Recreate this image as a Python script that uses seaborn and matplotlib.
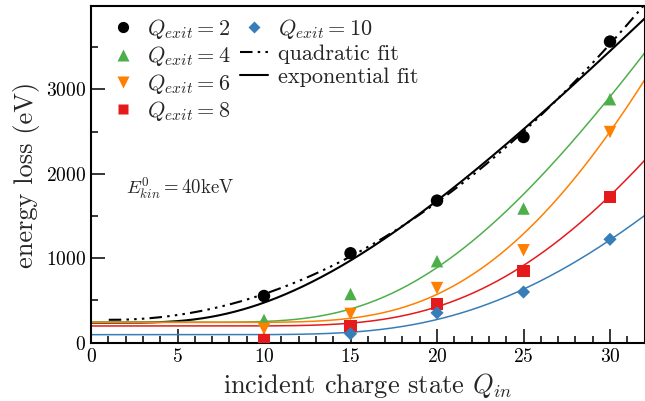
import numpy as np
import pandas as pd
import matplotlib
matplotlib.use('Agg')
import matplotlib.pyplot as plt
import seaborn as sns
from matplotlib.lines import Line2D
from matplotlib.ticker import MultipleLocator

# valores
q_in = [10, 15, 20, 25, 30]
q_exit = [2, 4, 6, 8, 10]
loss_q2 = [553, 1059, 1682, 2435, 3565]
loss_q4 = [270, 576, 965, 1588, 2882]
loss_q6 = [165, 341, 647, 1094, 2494]
loss_q8 = [35, 200, 459, 847, 1729]
loss_q10 = [np.nan, 106, 353, 600, 1224]

# parametros do ajuste exponencial  E = a + b*exp(-c/Q_in**k)
fit_a = [237, 242, 240, 198, 95]
fit_b = [113100, 45400, 104400, 71300, 43870]
fit_c = [19.5, 85, 115, 115, 110]
fit_k = [0.5, 1, 1, 1, 1]

cores = ['black', '#4daf4a', '#ff7f00', '#e41a1c', '#377eb8']
marcadores = ['o', '^', 'v', 's', 'D']
tamanhos = [80, 80, 80, 75, 45]

df = pd.DataFrame({'q_in': q_in * 5,
                   'q_exit': np.repeat(q_exit, 5),
                   'loss': loss_q2 + loss_q4 + loss_q6 + loss_q8 + loss_q10})

sns.set_style('ticks')
plt.rcParams['font.family'] = 'serif'
plt.rcParams['font.serif'] = ['cmr10', 'DejaVu Serif']
plt.rcParams['mathtext.fontset'] = 'cm'
plt.rcParams['axes.unicode_minus'] = False
plt.rcParams['axes.formatter.use_mathtext'] = True

traco = [6, 2.5, 1.2, 2.5, 1.2, 2.5, 1.2, 2.5]

fig = plt.figure(figsize=(6.45, 4.01), dpi=100)
ax = fig.add_axes([0.1411, 0.1454, 0.8583, 0.8384])

xx = np.linspace(0.05, 32.5, 500)
for q, cor, a, b, c, k in zip(q_exit, cores, fit_a, fit_b, fit_c, fit_k):
    fit = pd.DataFrame({'x': xx, 'y': a + b * np.exp(-c / xx ** k)})
    sns.lineplot(data=fit, x='x', y='y', color=cor, lw=1.5 if q == 2 else 1.1, ax=ax)
    if q == 2:
        d = df[df.q_exit == q]
        p = np.polyfit(d.q_in.values, d.loss.values, 2)
        xq = xx[xx > 1.0]
        quad = pd.DataFrame({'x': xq, 'y': np.polyval(p, xq)})
        sns.lineplot(data=quad, x='x', y='y', color='black', lw=1.5, ax=ax)
        ax.lines[-1].set_dashes(traco)

for q, cor, m, s in zip(q_exit, cores, marcadores, tamanhos):
    d = df[df.q_exit == q]
    sns.scatterplot(data=d, x='q_in', y='loss', color=cor, marker=m, s=s,
                    edgecolor='none', zorder=5, ax=ax)

ax.set_xlim(0, 32)
ax.set_ylim(0, 3980)
ax.xaxis.set_major_locator(MultipleLocator(5))
ax.xaxis.set_minor_locator(MultipleLocator(1))
ax.yaxis.set_major_locator(MultipleLocator(1000))
ax.yaxis.set_minor_locator(MultipleLocator(500))
ax.tick_params(which='both', direction='in', width=1.1, labelsize=14, colors='black')
ax.tick_params(which='major', length=10)
ax.tick_params(which='minor', length=5)
for sp in ax.spines.values():
    sp.set_linewidth(1.5)
    sp.set_color('black')
ax.set_xlabel('incident charge state $Q_{in}$', fontsize=19, labelpad=4)
ax.set_ylabel('energy loss (eV)', fontsize=19, labelpad=4)
ax.text(2.0, 1830, '$E^{0}_{kin} = 40$keV', fontsize=13.5, va='center')

handles = []
for q, cor, m, s in zip(q_exit, cores, marcadores, tamanhos):
    handles.append(Line2D([], [], ls='none', marker=m, color=cor, mec='none',
                          markersize=np.sqrt(s) * 0.9, label='$Q_{exit} = %d$' % q))
hq = Line2D([], [], color='black', lw=1.5, label='quadratic fit')
hq.set_dashes(traco)
handles.append(hq)
handles.append(Line2D([], [], color='black', lw=1.5, label='exponential fit'))
ax.legend(handles=handles, ncol=2, loc='upper left', bbox_to_anchor=(0.024, 0.982),
          frameon=False, fontsize=16, handlelength=1.26, labelspacing=0.15,
          columnspacing=0.45, borderaxespad=0, handletextpad=0.45, borderpad=0.2)

plt.savefig('out.png', dpi=100)
